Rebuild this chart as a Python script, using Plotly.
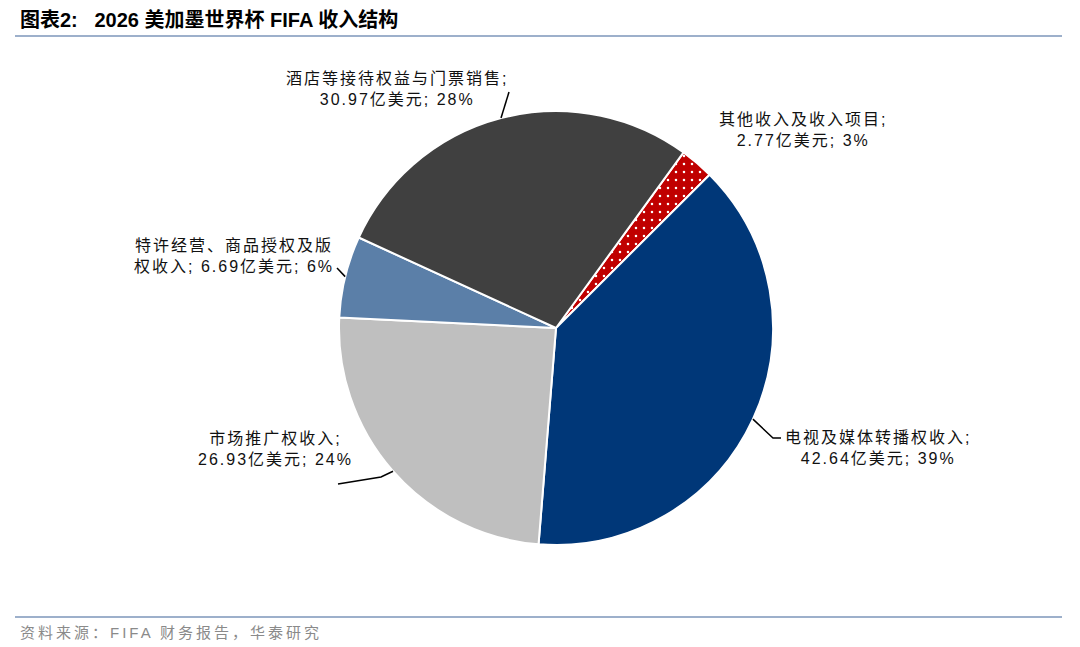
import math
import plotly.graph_objects as go

# ---- data ----
categories = ["其他收入及收入项目", "电视及媒体转播权收入", "市场推广权收入",
              "特许经营、商品授权及版权收入", "酒店等接待权益与门票销售"]
values = [2.77, 42.64, 26.93, 6.69, 30.97]
shares = [3, 39, 24, 6, 28]
label_texts = [
    "其他收入及收入项目;<br>2.77亿美元; 3%",
    "电视及媒体转播权收入;<br>42.64亿美元; 39%",
    "市场推广权收入;<br>26.93亿美元; 24%",
    "特许经营、商品授权及版<br>权收入; 6.69亿美元; 6%",
    "酒店等接待权益与门票销售;<br>30.97亿美元; 28%",
]
colors = ["#C00000", "#003778", "#BFBFBF", "#5B7FA8", "#404040"]

W, H = 1080, 647
CX, CY, R = 556, 328, 217
ROT = 36
FONT = "Liberation Sans, Arial, Noto Sans CJK SC"

def px(x):
    return x / W

def py(y):
    return 1 - y / H

def spaced(t, sp):
    return "<br>".join(f'<span style="letter-spacing:{sp}px">{s}</span>' for s in t.split("<br>"))

fig = go.Figure()
fig.add_trace(go.Pie(
    labels=categories, values=values, sort=False, direction="clockwise",
    rotation=ROT, textinfo="none", hoverinfo="skip",
    marker=dict(colors=colors, line=dict(color="white", width=2),
                pattern=dict(shape=[".", "", "", "", ""], fillmode="replace",
                             fgcolor="white", bgcolor=colors, size=8, solidity=0.08)),
    domain=dict(x=[px(CX - R), px(CX + R)], y=[py(CY + R), py(CY - R)]),
    showlegend=False,
))

total = sum(values)
mids = []
acc = ROT
for v in values:
    span = v / total * 360
    mids.append(acc + span / 2)
    acc += span

def edge(i, r=R):
    a = math.radians(mids[i])
    return CX + r * math.sin(a), CY - r * math.cos(a)

label_pos = [(803, 130), (878, 448), (275, 449), (234, 256), (397, 89)]
leader_outer = [None, [(773, 438), (781, 438)], [(381, 477), (338, 484)], [(337, 268)], [(509, 92)]]

annotations = []
shapes = []
for i, txt in enumerate(label_texts):
    x, y = label_pos[i]
    annotations.append(dict(x=px(x), y=py(y), xref="paper", yref="paper", text=spaced(txt, 2),
                            showarrow=False, align="center", xanchor="center", yanchor="middle",
                            font=dict(family=FONT, size=16, color="#111111")))
    if leader_outer[i]:
        ex, ey = edge(i)
        pts = [(ex, ey)] + leader_outer[i]
        path = "M " + " L ".join(f"{px(a)},{py(b)}" for a, b in pts)
        shapes.append(dict(type="path", xref="paper", yref="paper", path=path,
                           line=dict(color="black", width=1.5)))

annotations.append(dict(x=px(18), y=py(20), xref="paper", yref="paper", xanchor="left", yanchor="middle",
                        text="<b>图表2:   2026 美加墨世界杯 FIFA 收入结构</b>", showarrow=False,
                        font=dict(family=FONT, size=20, color="#000000")))
annotations.append(dict(x=px(18), y=py(632), xref="paper", yref="paper", xanchor="left", yanchor="middle",
                        text=spaced("资料来源：FIFA 财务报告，华泰研究", 3), showarrow=False,
                        font=dict(family=FONT, size=15, color="#8a8a8a")))
for yy in (36, 617):
    shapes.append(dict(type="line", xref="paper", yref="paper", x0=px(15), x1=px(1062),
                       y0=py(yy), y1=py(yy), line=dict(color="#9DB0CB", width=2)))

fig.update_layout(width=W, height=H, margin=dict(l=0, r=0, t=0, b=0),
                  paper_bgcolor="white", plot_bgcolor="white",
                  annotations=annotations, shapes=shapes)
fig.write_html("out.html")
